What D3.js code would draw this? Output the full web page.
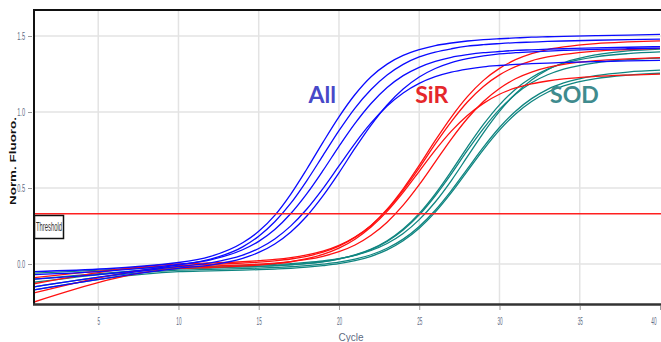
<!DOCTYPE html>
<html>
<head>
<meta charset="utf-8">
<script src="https://cdn.jsdelivr.net/npm/d3@7"></script>
<style>
body { margin: 0; background: #fff; }
svg { display: block; }
</style>
</head>
<body>
<svg id="chart"></svg>
<script>
var w_chart = 661; // SVG canvas size
var h_chart = 342;

var cycles = [1, 10, 12, 14, 15, 16, 17, 18, 19, 20, 21, 22, 23, 24, 25, 26, 27, 28, 29, 30, 31, 32, 33, 34, 36, 38, 40];

// "All" runs (blue)
var allRuns = [
  [-0.05, 0.01, 0.05, 0.14, 0.215, 0.32, 0.46, 0.625, 0.80, 0.968, 1.115, 1.232, 1.315, 1.372, 1.41, 1.437, 1.454, 1.467, 1.476, 1.482, 1.487, 1.492, 1.495, 1.498, 1.502, 1.506, 1.51],
  [-0.10, -0.006, 0.032, 0.113, 0.183, 0.278, 0.400, 0.549, 0.713, 0.877, 1.026, 1.148, 1.243, 1.313, 1.362, 1.394, 1.416, 1.433, 1.443, 1.450, 1.456, 1.460, 1.464, 1.467, 1.472, 1.476, 1.48],
  [-0.07, -0.002, 0.028, 0.094, 0.149, 0.227, 0.332, 0.463, 0.614, 0.774, 0.925, 1.056, 1.161, 1.239, 1.294, 1.333, 1.360, 1.377, 1.390, 1.398, 1.405, 1.409, 1.413, 1.416, 1.422, 1.426, 1.43],
  [-0.15, -0.016, 0.008, 0.058, 0.102, 0.165, 0.251, 0.362, 0.496, 0.645, 0.794, 0.928, 1.039, 1.125, 1.188, 1.232, 1.262, 1.282, 1.297, 1.306, 1.313, 1.318, 1.322, 1.326, 1.331, 1.336, 1.34],
  [-0.17, -0.028, -0.007, 0.037, 0.076, 0.132, 0.211, 0.316, 0.448, 0.600, 0.762, 0.914, 1.046, 1.151, 1.230, 1.286, 1.325, 1.351, 1.369, 1.382, 1.390, 1.396, 1.401, 1.405, 1.412, 1.416, 1.42]
];

// "SiR" runs (red)
var sirRuns = [
  [-0.09, -0.009, -0.003, 0.006, 0.012, 0.021, 0.033, 0.051, 0.078, 0.118, 0.175, 0.254, 0.361, 0.495, 0.649, 0.813, 0.967, 1.101, 1.208, 1.287, 1.344, 1.384, 1.411, 1.428, 1.450, 1.461, 1.468],
  [-0.13, 0.001, 0.007, 0.015, 0.022, 0.030, 0.042, 0.060, 0.085, 0.123, 0.178, 0.254, 0.356, 0.485, 0.632, 0.790, 0.937, 1.066, 1.168, 1.244, 1.299, 1.337, 1.362, 1.379, 1.401, 1.411, 1.418],
  [-0.19, -0.019, -0.014, -0.006, -0.001, 0.006, 0.016, 0.030, 0.051, 0.081, 0.125, 0.189, 0.275, 0.387, 0.522, 0.672, 0.822, 0.957, 1.069, 1.155, 1.219, 1.263, 1.293, 1.314, 1.338, 1.350, 1.358],
  [-0.25, -0.029, -0.023, -0.014, -0.007, 0.002, 0.015, 0.035, 0.063, 0.104, 0.163, 0.243, 0.346, 0.471, 0.610, 0.749, 0.874, 0.977, 1.057, 1.117, 1.158, 1.185, 1.204, 1.218, 1.234, 1.243, 1.249]
];

// "SOD" runs (teal)
var sodRuns = [
  [-0.06, -0.020, -0.015, -0.010, -0.006, -0.002, 0.003, 0.011, 0.021, 0.035, 0.057, 0.089, 0.135, 0.201, 0.292, 0.408, 0.549, 0.706, 0.863, 1.004, 1.120, 1.211, 1.278, 1.324, 1.376, 1.402, 1.414],
  [-0.10, -0.030, -0.025, -0.019, -0.015, -0.011, -0.004, 0.004, 0.016, 0.034, 0.060, 0.098, 0.153, 0.230, 0.333, 0.462, 0.611, 0.769, 0.918, 1.047, 1.150, 1.227, 1.282, 1.320, 1.363, 1.384, 1.395],
  [-0.12, -0.030, -0.025, -0.019, -0.016, -0.011, -0.005, 0.003, 0.015, 0.033, 0.058, 0.095, 0.148, 0.223, 0.323, 0.449, 0.593, 0.747, 0.891, 1.017, 1.117, 1.192, 1.245, 1.282, 1.324, 1.345, 1.355],
  [-0.15, -0.040, -0.035, -0.030, -0.027, -0.023, -0.018, -0.011, -0.001, 0.012, 0.032, 0.061, 0.104, 0.164, 0.247, 0.354, 0.483, 0.626, 0.769, 0.898, 1.005, 1.088, 1.149, 1.191, 1.239, 1.263, 1.275],
  [-0.17, -0.050, -0.045, -0.040, -0.037, -0.033, -0.028, -0.021, -0.011, 0.002, 0.022, 0.051, 0.093, 0.153, 0.235, 0.341, 0.469, 0.611, 0.753, 0.881, 0.987, 1.069, 1.130, 1.172, 1.220, 1.243, 1.255]
];

var seriesNames = ["All", "SiR", "SOD"];
var labelCycle = [18.1, 24.75, 33.15]; // where each name sits
var labelLevel = [1.06, 1.06, 1.06];

var xTicks = [5, 10, 15, 20, 25, 30, 35, 40];
var yTicks = [0.0, 0.5, 1.0, 1.5];
var threshold = 0.33;

var colors = ["#0a0aff", "#ff1010", "#0f8580"];
var labelColors = ["#4848c8", "#e5272b", "#3f8b8e"];

// Plot box (note: "top" is taken by window.top, so prefix everything)
var p_left = 34, p_right = 660, p_top = 10, p_bottom = 304;

var x = d3.scaleLinear().domain([1, 40]).range([p_left, p_right]);
var y = d3.scaleLinear().domain([-0.263, 1.671]).range([p_bottom, p_top]);

var svg = d3.select("#chart").attr("width", w_chart).attr("height", h_chart)
  .style("font-family", "'Liberation Sans', Arial, sans-serif");

svg.append("rect").attr("width", w_chart).attr("height", h_chart).attr("fill", "#fff");

svg.append("clipPath").attr("id", "plot-clip")
  .append("rect").attr("x", p_left).attr("y", p_top)
  .attr("width", w_chart - p_left).attr("height", p_bottom - p_top);

// Grid lines
var grid = svg.append("g").attr("id", "grid").style("stroke", "#e3e3e3").style("stroke-width", 1.5);
grid.selectAll(".gx").data(xTicks.filter(function(t) { return t < 40; })).enter().append("line")
  .attr("x1", function(t) { return x(t); }).attr("x2", function(t) { return x(t); })
  .attr("y1", p_top).attr("y2", p_bottom);
grid.selectAll(".gy").data(yTicks).enter().append("line")
  .attr("x1", p_left).attr("x2", w_chart)
  .attr("y1", function(t) { return y(t); }).attr("y2", function(t) { return y(t); });

// Axes (ticks + squeezed labels, like the instrument software)
var xAxis = svg.append("g").attr("transform", "translate(0," + (p_bottom + 2) + ")")
  .call(d3.axisBottom(x).tickValues(xTicks).tickSize(4).tickPadding(6).tickFormat(d3.format("d")));
var yAxis = svg.append("g").attr("transform", "translate(" + (p_left - 2) + ",0)")
  .call(d3.axisLeft(y).tickValues(yTicks).tickSize(4).tickPadding(3).tickFormat(d3.format(".1f")));
[xAxis, yAxis].forEach(function(ax) {
  ax.select(".domain").remove();
  ax.selectAll(".tick line").attr("stroke", "#9a9a9a");
  ax.selectAll(".tick text")
    .attr("fill", "#5d6a82")
    .style("font-size", "10px")
    .attr("lengthAdjust", "spacingAndGlyphs")
    .attr("textLength", function() { return this.textContent.length * 2.6; });
});
xAxis.selectAll(".tick text").attr("dy", "0.9em");
// last label sits just inside the right edge
xAxis.selectAll(".tick text").filter(function(t) { return t === 40; })
  .attr("text-anchor", "end").attr("x", -4);

// Runs
var lineGen = d3.line()
  .x(function(v, i) { return x(cycles[i]); })
  .y(function(v) { return y(v); })
  .curve(d3.curveMonotoneX);

var groups = [allRuns, sirRuns, sodRuns];
var plot = svg.append("g").attr("clip-path", "url(#plot-clip)");
[2, 1, 0].forEach(function(k) {
  plot.append("g").selectAll("path").data(groups[k]).enter().append("path")
    .attr("d", lineGen)
    .attr("fill", "none")
    .attr("stroke", colors[k])
    .attr("stroke-width", 1.3);
});

// Threshold line and its tag
plot.append("line")
  .attr("x1", p_left).attr("x2", w_chart)
  .attr("y1", y(threshold)).attr("y2", y(threshold))
  .attr("stroke", "#ff2020").attr("stroke-width", 1.5);
var tag = svg.append("g").attr("transform", "translate(" + p_left + "," + Math.round(y(threshold) + 1) + ")");
tag.append("rect").attr("x", 0.5).attr("y", 0.5).attr("width", 29).attr("height", 23)
  .attr("fill", "#fff").attr("stroke", "#111").attr("stroke-width", 1.5);
tag.append("text").text("Threshold")
  .attr("x", 2).attr("y", 16)
  .attr("fill", "#333").style("font-size", "12px")
  .attr("lengthAdjust", "spacingAndGlyphs").attr("textLength", 26);

// Frame
svg.append("line").attr("x1", p_left).attr("x2", p_left).attr("y1", p_top - 1).attr("y2", p_bottom + 1)
  .attr("stroke", "#111").attr("stroke-width", 2);
svg.append("line").attr("x1", p_left).attr("x2", w_chart).attr("y1", p_top).attr("y2", p_top)
  .attr("stroke", "#111").attr("stroke-width", 2);
svg.append("line").attr("x1", p_left - 1).attr("x2", w_chart).attr("y1", p_bottom + 0.5).attr("y2", p_bottom + 0.5)
  .attr("stroke", "#333").attr("stroke-width", 2.5);

// Series names
svg.append("g").selectAll("text").data(seriesNames).enter().append("text")
  .text(function(d) { return d; })
  .attr("x", function(d, i) { return x(labelCycle[i]); })
  .attr("y", function(d, i) { return y(labelLevel[i]); })
  .attr("fill", function(d, i) { return labelColors[i]; })
  .style("font-family", "Lato, 'Open Sans', sans-serif")
  .style("font-weight", "bold")
  .style("font-size", "23px");

// Axis titles (tiny, as in the screenshot)
svg.append("text").text("Norm. Fluoro.")
  .attr("transform", "translate(16," + ((p_top + p_bottom) / 2 + 4) + ") rotate(-90)")
  .attr("text-anchor", "middle")
  .attr("fill", "#111").style("font-size", "9px").style("font-weight", "bold")
  .attr("lengthAdjust", "spacingAndGlyphs").attr("textLength", 88);
svg.append("text").text("Cycle")
  .attr("x", (p_left + p_right) / 2 + 4).attr("y", 341)
  .attr("text-anchor", "middle")
  .attr("fill", "#5d6a82").style("font-size", "10px");
</script>
</body>
</html>
